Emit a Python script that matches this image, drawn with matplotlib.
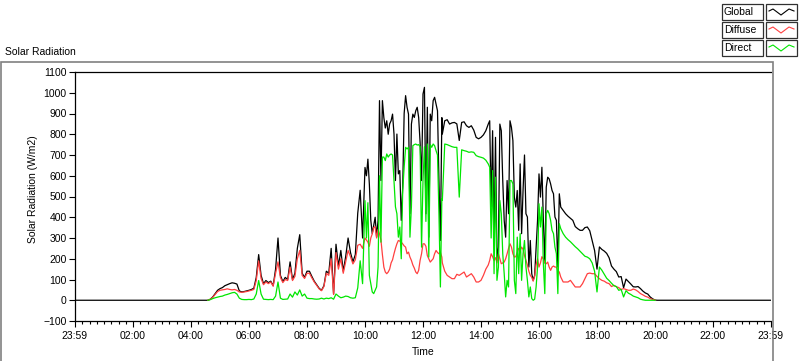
import numpy as np
import matplotlib.pyplot as plt
from matplotlib.patches import Rectangle
from matplotlib.lines import Line2D

plt.rcParams['font.family'] = ['Liberation Sans', 'DejaVu Sans']

# sample clock in minutes after 23:59 (5 min steps, 3 min in the cloudy spells)
t_min = np.concatenate([[0], np.arange(270, 600, 5), np.arange(600, 760, 3),
                        np.arange(760, 855, 5), np.arange(855, 1005, 3),
                        np.arange(1005, 1215, 5), [1439]])

# W/m2
global_rad = [0,
    # 04:30 - 09:55
    0, 0, 5, 16, 32, 48, 56, 61, 70, 75, 80, 84, 82, 78, 45, 40, 42, 45, 48, 52, 58,
    110, 220, 120, 80, 95, 85, 92, 70, 150, 300, 120, 90, 110, 100, 185, 100, 130, 250, 316, 130, 110,
    140, 140, 115, 92, 75, 58, 48, 70, 140, 130, 250, 30, 270, 165, 240, 140, 210, 300, 230, 185, 220, 420, 530, 300,
    # 10:00 - 12:39
    640, 600, 680, 560, 385, 321, 360, 400, 305, 385,
    962, 577, 962, 880, 830, 865, 800, 850, 865, 897,
    801, 577, 801, 609, 625, 385, 545, 900, 986, 930,
    897, 417, 849, 897, 881, 913, 930, 881, 760, 577,
    994, 1026, 417, 930, 304, 897, 865, 962, 978, 946,
    913, 577, 288, 880,
    # 12:40 - 14:10
    801, 865, 870, 849, 855, 857, 850, 770, 857, 860, 841, 833, 841, 820, 785, 778, 785, 797, 817,
    # 14:15 - 16:42
    849, 865, 450, 817, 288, 785, 192, 256, 849, 817,
    577, 385, 304, 577, 417, 865, 833, 769, 497, 449,
    529, 337, 657, 321, 529, 700, 417, 401, 160, 288,
    128, 96, 120, 256, 385, 609, 497, 641, 385, 180,
    545, 593, 585, 561, 529, 513, 401, 385, 160, 513,
    # 16:45 - 20:10
    449, 433, 417, 405, 395, 385, 355, 345, 337, 337, 350, 353, 335, 288, 240,
    150, 257, 245, 237, 226, 205, 165, 150, 138, 112, 114, 60, 102, 90, 78,
    65, 64, 66, 56, 44, 35, 30, 16, 7, 1, 0, 0,
    0]

diffuse = [None,
    None, 0, 5, 14, 28, 42, 48, 50, 52, 55, 52, 50, 52, 48, 40, 38, 40, 42, 45, 48, 52,
    95, 190, 105, 75, 88, 80, 88, 68, 130, 185, 110, 85, 100, 95, 160, 95, 115, 200, 240, 120, 105,
    130, 130, 108, 88, 72, 55, 46, 66, 130, 120, 200, 28, 230, 150, 200, 130, 185, 240, 210, 175, 195, 265, 270, 250,
    300, 290, 280, 260, 300, 320, 350, 355, 300, 340,
    320, 290, 220, 160, 136, 128, 136, 150, 180, 195,
    224, 250, 272, 288, 285, 280, 272, 262, 256, 224,
    232, 208, 192, 170, 155, 136, 128, 144, 192, 224,
    272, 272, 260, 215, 200, 184, 192, 200, 224, 240,
    230, 224, 232, 208,
    180, 140, 120, 112, 104, 104, 125, 120, 128, 136, 112, 120, 128, 112, 88, 88, 96, 120, 150,
    170, 192, 224, 210, 192, 205, 180, 224, 200, 176,
    180, 184, 200, 224, 250, 272, 256, 224, 208, 210,
    230, 250, 240, 256, 245, 215, 192, 170, 140, 120,
    110, 92, 115, 170, 200, 160, 180, 210, 200, 180,
    176, 184, 160, 144, 160, 165, 160, 160, 144, 136,
    112, 88, 88, 88, 96, 80, 64, 64, 64, 80, 104, 128, 131, 128, 128,
    115, 104, 96, 92, 84, 80, 66, 72, 65, 61, 52, 56, 52, 48, 48,
    54, 50, 42, 32, 26, 19, 15, 8, 4, 1, None, None,
    None]

direct = [None,
    None, 0, 3, 8, 12, 15, 18, 20, 25, 28, 32, 36, 38, 30, 10, 4, 3, 3, 4, 3, 6,
    30, 95, 30, 5, 4, 3, 4, 3, 20, 88, 10, 4, 5, 6, 30, 15, 40, 25, 50, 20, 30,
    10, 8, 8, 6, 5, 6, 10, 6, 10, 8, 12, 5, 30, 20, 12, 15, 20, 18, 12, 10, 12, 60, 190, 80,
    480, 300, 470, 120, 80, 40, 32, 48, 64, 160,
    600, 280, 690, 690, 673, 705, 690, 700, 705, 700,
    577, 450, 417, 304, 353, 200, 529, 641, 737, 729,
    737, 304, 449, 745, 750, 753, 748, 750, 740, 256,
    577, 740, 380, 753, 208, 750, 737, 753, 745, 721,
    700, 417, 64, 490,
    481, 753, 750, 745, 740, 737, 737, 497, 725, 721, 718, 713, 715, 713, 697, 692, 689, 685, 675,
    657, 641, 300, 625, 128, 593, 96, 160, 481, 417,
    224, 128, 16, 96, 64, 577, 577, 561, 96, 32,
    304, 128, 321, 96, 224, 288, 160, 96, 16, 64,
    8, 0, 5, 64, 160, 465, 353, 449, 176, 32,
    417, 433, 417, 385, 337, 321, 256, 224, 32, 369,
    345, 321, 304, 292, 282, 270, 258, 248, 236, 224, 212, 208, 200, 180, 140,
    40, 160, 145, 125, 106, 95, 82, 70, 66, 48, 52, 16, 46, 34, 28,
    20, 16, 12, 5, 2, 0, 0, 0, 0, 0, None, None,
    None]

tick_labels = ['23:59', '02:00', '04:00', '06:00', '08:00', '10:00', '12:00',
               '14:00', '16:00', '18:00', '20:00', '22:00', '23:59']
series_names = ['Global', 'Diffuse', 'Direct']
series_colors = ['#000000', '#ff4040', '#00e600']

W, H = 800, 361
fig = plt.figure(figsize=(W / 100, H / 100), dpi=100)

def fx(px):
    return px / W

def fy(py):
    return 1 - py / H

# gray panel frame
fig.patches.append(Rectangle((fx(1), fy(362)), fx(772), 300 / H, transform=fig.transFigure,
                             fill=False, edgecolor='#808080', lw=1.2))

ax = fig.add_axes([fx(75), fy(321), fx(696), 249 / H])
hours = t_min / 60.0
for vals, c in zip([global_rad, diffuse, direct], series_colors):
    ax.plot(hours, np.array(vals, dtype=float), color=c, lw=0.9)

ax.set_xlim(0, 24)
ax.set_ylim(-100, 1100)
ax.set_yticks(np.arange(-100, 1101, 100))
ax.set_xticks(np.arange(0, 25, 2))
ax.set_xticks(np.arange(0, 24.01, 0.25), minor=True)
ax.set_xticklabels(tick_labels)
ax.tick_params(axis='both', labelsize=7.5, width=0.8, length=4, pad=2)
ax.tick_params(axis='x', pad=3.5)
ax.tick_params(axis='x', which='minor', length=2.5, width=0.8)
ax.spines['right'].set_visible(False)
for s in ['left', 'top', 'bottom']:
    ax.spines[s].set_linewidth(0.9)
ax.set_xlabel('Time', fontsize=7.5, labelpad=4)
ax.set_ylabel('Solar Radiation (W/m2)', fontsize=7.5)
ax.yaxis.set_label_coords(-0.053, 0.53)

fig.text(fx(5), fy(52), 'Solar Radiation', fontsize=7.5, va='center', ha='left')

# legend boxes in the top right corner
for i, (name, c) in enumerate(zip(series_names, series_colors)):
    top = 4 + 18 * i
    fig.patches.append(Rectangle((fx(722), fy(top + 16)), fx(41), 16 / H, transform=fig.transFigure,
                                 facecolor='white', edgecolor='#303030', lw=0.9))
    fig.text(fx(724), fy(top + 8), name, fontsize=7.5, va='center', ha='left')
    fig.patches.append(Rectangle((fx(766), fy(top + 16)), fx(31), 16 / H, transform=fig.transFigure,
                                 facecolor='white', edgecolor='#303030', lw=0.9))
    xs = [769, 773, 781, 789, 794]
    ys = [top + 7, top + 5, top + 11, top + 5, top + 7]
    fig.lines.append(Line2D([fx(v) for v in xs], [fy(v) for v in ys], transform=fig.transFigure,
                            color=c, lw=0.8))

fig.savefig('out.png', dpi=100)
